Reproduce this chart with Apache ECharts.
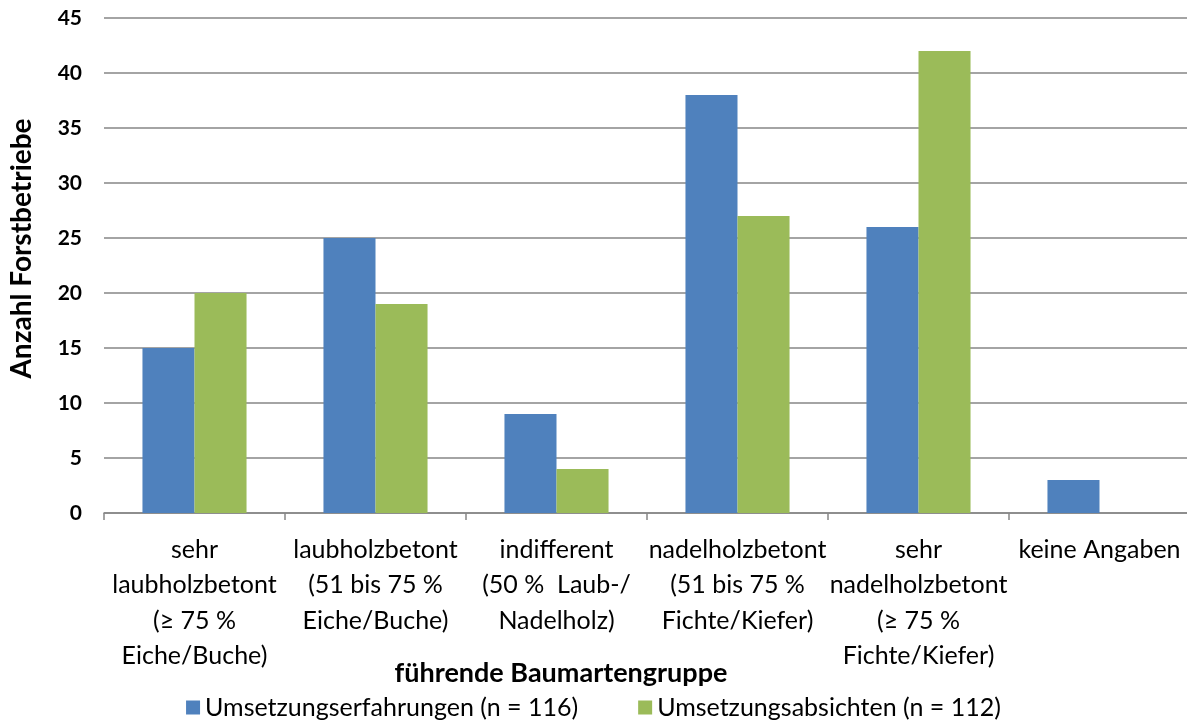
<!DOCTYPE html>
<html>
<head>
<meta charset="utf-8">
<script src="https://cdn.jsdelivr.net/npm/echarts@6/dist/echarts.min.js"></script>
<style>
  html, body { margin: 0; padding: 0; background: #fff; }
  #chart { width: 1187px; height: 720px; }
</style>
</head>
<body>
<div id="chart"></div>
<script>
// Kategorien (führende Baumartengruppe)
const categories = [
  'sehr\nlaubholzbetont\n(≥ 75 %\nEiche/Buche)',
  'laubholzbetont\n(51 bis 75 %\nEiche/Buche)',
  'indifferent\n(50 %  Laub-/\nNadelholz)',
  'nadelholzbetont\n(51 bis 75 %\nFichte/Kiefer)',
  'sehr\nnadelholzbetont\n(≥ 75 %\nFichte/Kiefer)',
  'keine Angaben'
]
const erfahrungen = [15, 25, 9, 38, 26, 3]
const absichten = [20, 19, 4, 27, 42, 0]
const seriesNames = ['Umsetzungserfahrungen (n = 116)', 'Umsetzungsabsichten (n = 112)']

const FONT = 'Lato, "Open Sans", sans-serif'
const chart = echarts.init(document.getElementById('chart'))

chart.setOption({
  animation: false,
  textStyle: { fontFamily: FONT },
  grid: { left: 104, top: 18, width: 1086, height: 495, containLabel: false, outerBoundsMode: 'none' },
  legend: {
    top: 690,
    left: 'center',
    itemGap: 60,
    itemWidth: 14,
    itemHeight: 14,
    icon: 'rect',
    textStyle: { fontSize: 25, color: '#000', fontFamily: FONT },
    data: seriesNames
  },
  xAxis: {
    type: 'category',
    data: categories,
    name: 'führende Baumartengruppe',
    nameLocation: 'middle',
    nameGap: 147,
    nameMoveOverlap: false,
    nameTextStyle: {
      fontSize: 27, fontWeight: 'bold', color: '#000', fontFamily: FONT,
      padding: [0, 172, 0, 0]
    },
    axisLine: { lineStyle: { color: '#868686', width: 1.5 } },
    axisTick: { show: true, length: 7, lineStyle: { color: '#868686', width: 1.5 } },
    axisLabel: {
      interval: 0,
      fontSize: 25,
      lineHeight: 35.5,
      color: '#000',
      margin: 19,
      fontFamily: FONT
    }
  },
  yAxis: {
    type: 'value',
    min: 0,
    max: 45,
    interval: 5,
    name: 'Anzahl Forstbetriebe',
    nameLocation: 'middle',
    nameGap: 68,
    nameMoveOverlap: false,
    nameTextStyle: { fontSize: 28, fontWeight: 'bold', color: '#000', fontFamily: FONT, padding: [0, 0, 0, 34] },
    axisLine: { show: false },
    axisTick: { show: false },
    axisLabel: { fontSize: 21, fontWeight: 'bold', color: '#000', margin: 22, fontFamily: FONT },
    splitLine: { lineStyle: { color: '#868686', width: 1.5 } }
  },
  series: [
    {
      name: seriesNames[0],
      type: 'bar',
      data: erfahrungen,
      barGap: '0%',
      barCategoryGap: '42.5%',
      itemStyle: { color: '#4F81BD' }
    },
    {
      name: seriesNames[1],
      type: 'bar',
      data: absichten,
      itemStyle: { color: '#9BBB59' }
    }
  ]
})
</script>
</body>
</html>
